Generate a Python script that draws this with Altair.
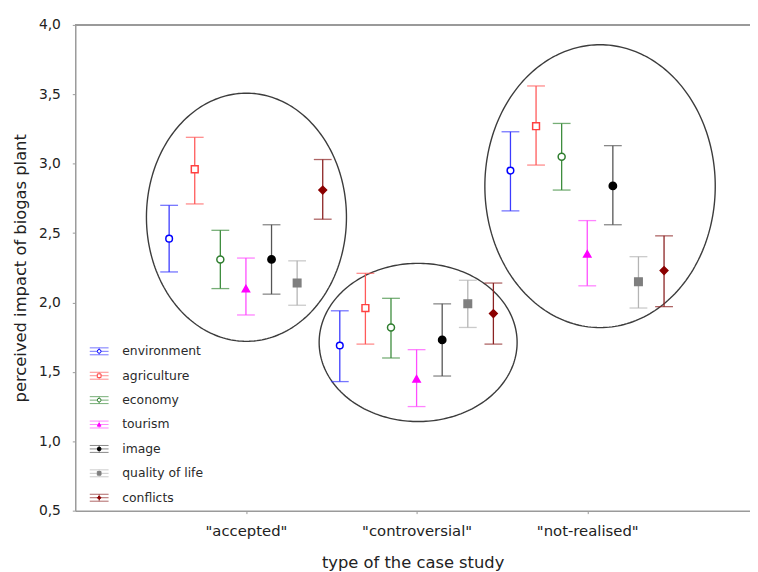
import altair as alt
import numpy as np
import pandas as pd

# ---------------- data ----------------
groups = ['"accepted"', '"controversial"', '"not-realised"']
series = ["environment", "agriculture", "economy", "tourism", "image", "quality of life", "conflicts"]

mean_accepted = [2.46, 2.96, 2.31, 2.10, 2.31, 2.14, 2.81]
hi_accepted = [2.70, 3.19, 2.52, 2.32, 2.56, 2.30, 3.03]
lo_accepted = [2.22, 2.71, 2.10, 1.91, 2.06, 1.98, 2.60]

mean_controversial = [1.69, 1.96, 1.82, 1.45, 1.73, 1.99, 1.92]
hi_controversial = [1.94, 2.21, 2.03, 1.66, 1.99, 2.16, 2.14]
lo_controversial = [1.43, 1.70, 1.60, 1.25, 1.47, 1.82, 1.70]

mean_notrealised = [2.95, 3.27, 3.05, 2.35, 2.84, 2.15, 2.23]
hi_notrealised = [3.23, 3.56, 3.29, 2.59, 3.13, 2.33, 2.48]
lo_notrealised = [2.66, 2.99, 2.81, 2.12, 2.56, 1.96, 1.97]

# ellipses around each group (centre x, centre y, radius x, radius y in data units)
ell_cx = [1.003, 2.009, 3.075]
ell_cy = [2.614, 1.712, 2.838]
ell_rx = [0.586, 0.580, 0.675]
ell_ry = [0.894, 0.570, 1.019]

# ---------------- styles ----------------
err_colors = ["#3b3bff", "#ff5a5a", "#3c8c3c", "#ff4dff", "#555555", "#b4b4b4", "#8b2222"]
stroke_colors = ["#0000ff", "#ff4040", "#2e7d2e", "#ff00ff", "#000000", "#7f7f7f", "#8b0000"]
fill_colors = ["#ffffff", "#ffffff", "#ffffff", "#ff00ff", "#000000", "#7f7f7f", "#8b0000"]
shapes = ["circle", "square", "circle", "triangle-up", "circle", "square", "diamond"]
sizes = [45, 60, 38, 45, 65, 85, 45]

W, H = 682, 491
FONT = "DejaVu Sans"
series_spacing = 0.15

# ---------------- tables ----------------
means = [mean_accepted, mean_controversial, mean_notrealised]
his = [hi_accepted, hi_controversial, hi_notrealised]
los = [lo_accepted, lo_controversial, lo_notrealised]
rows = []
for gi, g in enumerate(groups):
    for si, s in enumerate(series):
        rows.append({
            "group": g, "series": s,
            "x": gi + 1 + (si - 3) * series_spacing,
            "mean": means[gi][si], "hi": his[gi][si], "lo": los[gi][si],
        })
df = pd.DataFrame(rows)

t = np.linspace(0, 2 * np.pi, 241)
erows = []
for ei in range(len(ell_cx)):
    for k, tt in enumerate(t):
        erows.append({"e": ei, "k": k,
                      "x": ell_cx[ei] + ell_rx[ei] * np.cos(tt),
                      "y": ell_cy[ei] + ell_ry[ei] * np.sin(tt)})
df_ell = pd.DataFrame(erows)

leg_x, leg_text_x, leg_y0, leg_step = 0.140, 0.275, 1.648, 0.1758
df_leg = pd.DataFrame({
    "series": series,
    "x": [leg_x] * len(series),
    "xt": [leg_text_x] * len(series),
    "y": [leg_y0 - i * leg_step for i in range(len(series))],
})

# ---------------- encodings ----------------
x_axis = alt.Axis(values=[1, 2, 3],
                  labelExpr="[" + ",".join("'" + g + "'" for g in groups) + "][datum.value - 1]",
                  title="type of the case study", grid=False,
                  labelFontSize=15, labelPadding=10, titleFontSize=16.5, titlePadding=16)
y_axis = alt.Axis(values=[0.5, 1.0, 1.5, 2.0, 2.5, 3.0, 3.5, 4.0],
                  labelExpr="replace(format(datum.value, '.1f'), '.', ',')",
                  title="perceived impact of biogas plant", grid=False,
                  labelFontSize=14, labelPadding=12, titleFontSize=16.5, titlePadding=10)
x_scale = alt.Scale(domain=[0, W / 172.5], nice=False, zero=False)
y_scale = alt.Scale(domain=[0.5, 4.0], nice=False, zero=False)


def X(f):
    return alt.X(f"{f}:Q", scale=x_scale, axis=x_axis)


def Y(f):
    return alt.Y(f"{f}:Q", scale=y_scale, axis=y_axis)


color_enc = alt.Color("series:N", scale=alt.Scale(domain=series, range=err_colors), legend=None)
stroke_enc = alt.Stroke("series:N", scale=alt.Scale(domain=series, range=stroke_colors), legend=None)
fill_enc = alt.Fill("series:N", scale=alt.Scale(domain=series, range=fill_colors), legend=None)
shape_enc = alt.Shape("series:N", scale=alt.Scale(domain=series, range=shapes), legend=None)
size_enc = alt.Size("series:N", scale=alt.Scale(domain=series, range=sizes), legend=None)

base = alt.Chart(df)

ellipses = alt.Chart(df_ell).mark_line(color="#3c3c3c", strokeWidth=1.4).encode(
    x=X("x"), y=Y("y"), detail="e:N", order="k:Q")

bars = base.mark_rule(strokeWidth=1.3).encode(x=X("x"), y=Y("lo"), y2="hi:Q", color=color_enc)
cap_lo = base.mark_tick(orient="horizontal", size=18, thickness=1.3).encode(x=X("x"), y=Y("lo"), color=color_enc)
cap_hi = base.mark_tick(orient="horizontal", size=18, thickness=1.3).encode(x=X("x"), y=Y("hi"), color=color_enc)
points = base.mark_point(filled=True, opacity=1, strokeWidth=1.5).encode(
    x=X("x"), y=Y("mean"), stroke=stroke_enc, fill=fill_enc, shape=shape_enc, size=size_enc)

leg = alt.Chart(df_leg)
leg_layers = []
for off in (-3.5, 0, 3.5):
    leg_layers.append(leg.mark_tick(orient="horizontal", size=19, thickness=1, yOffset=off).encode(
        x=X("x"), y=Y("y"), color=color_enc))
leg_layers.append(leg.mark_tick(orient="vertical", size=7, thickness=1).encode(x=X("x"), y=Y("y"), color=color_enc))
leg_layers.append(leg.mark_point(filled=True, opacity=1, strokeWidth=1, size=14).encode(
    x=X("x"), y=Y("y"), stroke=stroke_enc, fill=fill_enc, shape=shape_enc))
leg_text = leg.mark_text(align="left", baseline="middle", font=FONT, fontSize=12.5, color="#2a2a2a").encode(
    x=X("xt"), y=Y("y"), text="series:N")

top_border = alt.Chart(df_leg).mark_rule(color="#9a9a9a", strokeWidth=1.5).encode(
    x=alt.value(0), x2=alt.value(W), y=alt.value(0))

chart = alt.layer(ellipses, bars, cap_lo, cap_hi, points, *leg_layers, leg_text, top_border).properties(
    width=W, height=H,
    autosize=alt.AutoSizeParams(type="none"),
    padding={"left": 68, "top": 14, "right": 0, "bottom": 66},
).configure_view(stroke=None).configure_axis(
    labelFont=FONT, titleFont=FONT, labelColor="#222222", titleColor="#222222",
    titleFontWeight="normal", domainColor="#9a9a9a", domainWidth=1.5,
    tickColor="#9a9a9a", tickSize=3, tickWidth=1,
)

chart.save("out.html", embed_options={"renderer": "svg", "actions": False})
